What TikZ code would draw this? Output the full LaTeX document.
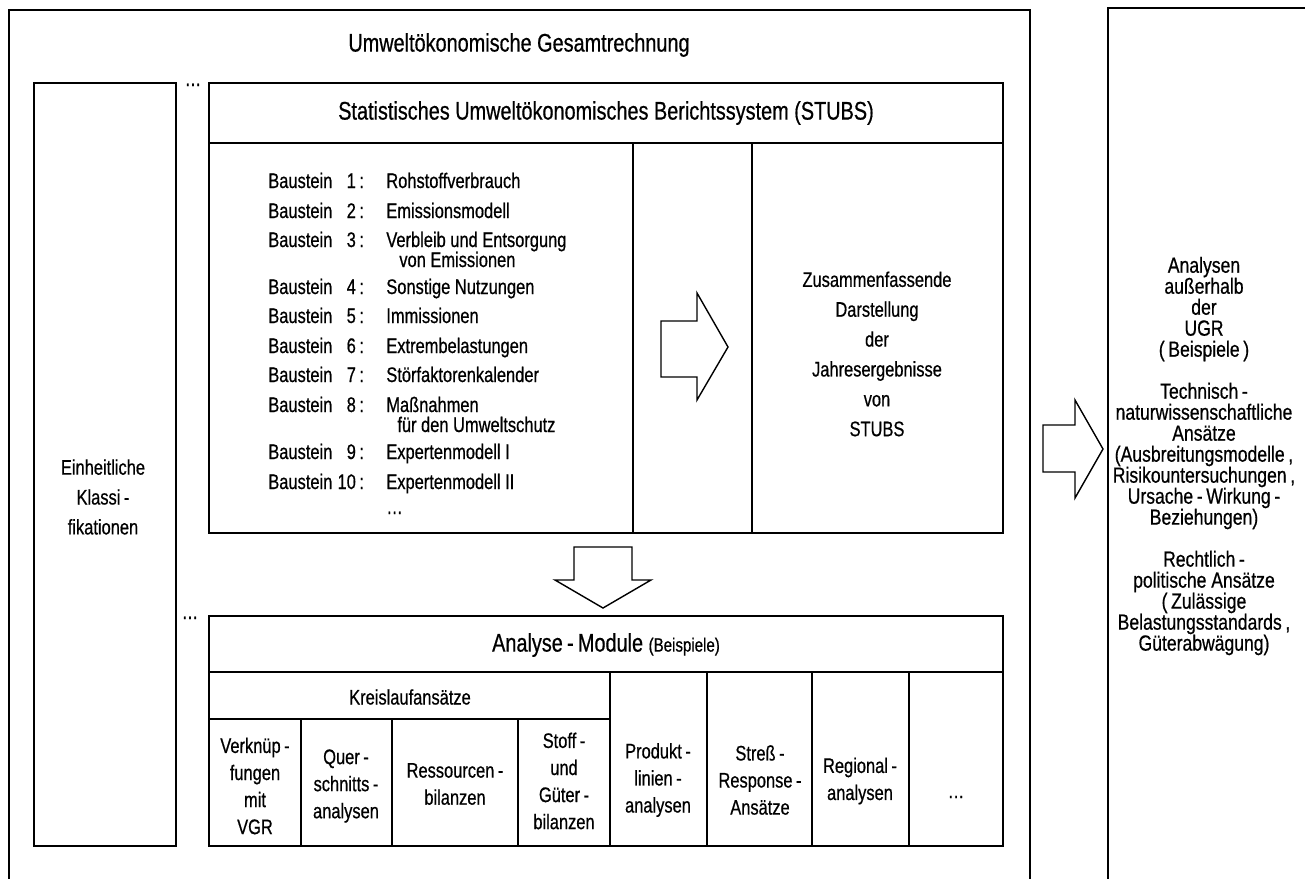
\documentclass[tikz,border=0pt]{standalone}
\usepackage{fontspec}
\setmainfont{Liberation Sans}[FakeStretch=0.78, FakeBold=0.6]
\newfontfamily\widefont{Liberation Sans}[FakeStretch=0.8, FakeBold=0.6]
\tikzset{
  rahmen/.style={line width=1pt},
  titel/.style={font=\fontsize{14.5}{17}\selectfont, inner sep=0pt},
  zelle/.style={font=\fontsize{12}{15.4}\selectfont, align=center, inner sep=0pt},
  zeile/.style={font=\fontsize{12}{12}\selectfont, anchor=base west, inner sep=0pt},
  block/.style={font=\fontsize{12}{17}\selectfont, align=center, inner sep=0pt},
  aussen/.style={font=\widefont\fontsize{12.5}{11.95}\selectfont, align=center, inner sep=0pt},
  pfeil/.style={line width=0.8pt, line join=miter},
}
\begin{document}
\begin{tikzpicture}[x=0.02cm, y=-0.02cm]
\useasboundingbox (0,0) rectangle (1305,879);
\draw[rahmen] (9,879) -- (9,10) -- (1030,10) -- (1030,879);
\draw[rahmen] (1108,879) -- (1108,8) -- (1305,8);
\node (ugr) at (519,45) [titel] {Umweltökonomische Gesamtrechnung};
\draw[rahmen] (34,83) rectangle (176,846);
\node (klass) at (103,497) [block] {Einheitliche\\Klassi\,-\\fikationen};
\node (dotsa) at (193,86) [zeile, anchor=base] {\dots};
\node (dotsb) at (190,619) [zeile, anchor=base] {\dots};
\draw[rahmen] (209,83) rectangle (1003,533);
\draw[rahmen] (209,143) -- (1003,143) (633,143) -- (633,533) (752,143) -- (752,533);
\node (stubs) at (606,113) [titel] {Statistisches Umweltökonomisches Berichtssystem (STUBS)};
\foreach \n/\yy/\was in {1/188/Rohstoffverbrauch, 2/218/Emissionsmodell, 3/247/Verbleib und Entsorgung,
  4/294/Sonstige Nutzungen, 5/323/Immissionen, 6/353/Extrembelastungen, 7/382/Störfaktorenkalender,
  8/412/Maßnahmen, 9/459/Expertenmodell I, 10/489/Expertenmodell II}{
  \node (bau\n) at (268,\yy) [zeile] {Baustein\makebox[18pt][r]{\n\,:}};
  \node (item\n) at (386,\yy) [zeile] {\was};
}
\node (item3b) at (399,267) [zeile] {von Emissionen};
\node (item8b) at (397,432) [zeile] {für den Umweltschutz};
\node (itemx) at (386,514) [zeile] {\dots};
\draw[pfeil] (661,321) -- (697,321) -- (697,293) -- (728,347) -- (697,400) -- (697,377) -- (661,377) -- cycle;
\node (jahr) at (877,354) [block] {Zusammenfassende\\Darstellung\\der\\Jahresergebnisse\\von\\STUBS};
\draw[pfeil] (574,547) -- (632,547) -- (632,580) -- (651,580) -- (603,608) -- (555,580) -- (574,580) -- cycle;
\draw[rahmen] (209,616) rectangle (1003,846);
\draw[rahmen] (209,672) -- (1003,672) (209,719) -- (610,719);
\foreach \xx in {610,707,812,909} \draw[rahmen] (\xx,672) -- (\xx,846);
\foreach \xx in {301,392,518} \draw[rahmen] (\xx,719) -- (\xx,846);
\node (modul) at (606,645) [titel] {Analyse\,-\,Module {\fontsize{11}{13}\selectfont (Beispiele)}};
\node (kreis) at (410,697) [zelle] {Kreislaufansätze};
\node (vgr) at (255,786) [zelle] {Verknüp\,-\\fungen\\mit\\VGR};
\node (quer) at (346,786) [zelle] {Quer\,-\\schnitts\,-\\analysen};
\node (ress) at (455,784) [zelle] {Ressourcen\,-\\bilanzen};
\node (stoff) at (564,781) [zelle] {Stoff\,-\\und\\Güter\,-\\bilanzen};
\node (prod) at (658,780) [zelle] {Produkt\,-\\linien\,-\\analysen};
\node (stress) at (760,780) [zelle] {Streß\,-\\Response\,-\\Ansätze};
\node (region) at (860,781) [zelle] {Regional\,-\\analysen};
\node (mehr) at (956,797) [zelle] {\dots};
\draw[pfeil] (1043,425) -- (1075,425) -- (1075,400) -- (1103,449) -- (1075,498) -- (1075,472) -- (1043,472) -- cycle;
\node (extern) at (1204,456) [aussen] {Analysen\\außerhalb\\der\\UGR\\(\,Beispiele\,)\\[11.95pt]
  Technisch\,-\\naturwissenschaftliche\\Ansätze\\(Ausbreitungsmodelle\,,\\Risikountersuchungen\,,\\
  Ursache\,-\,Wirkung\,-\\Beziehungen)\\[11.95pt]
  Rechtlich\,-\\politische Ansätze\\(\,Zulässige\\Belastungsstandards\,,\\Güterabwägung)};
\end{tikzpicture}
\end{document}
